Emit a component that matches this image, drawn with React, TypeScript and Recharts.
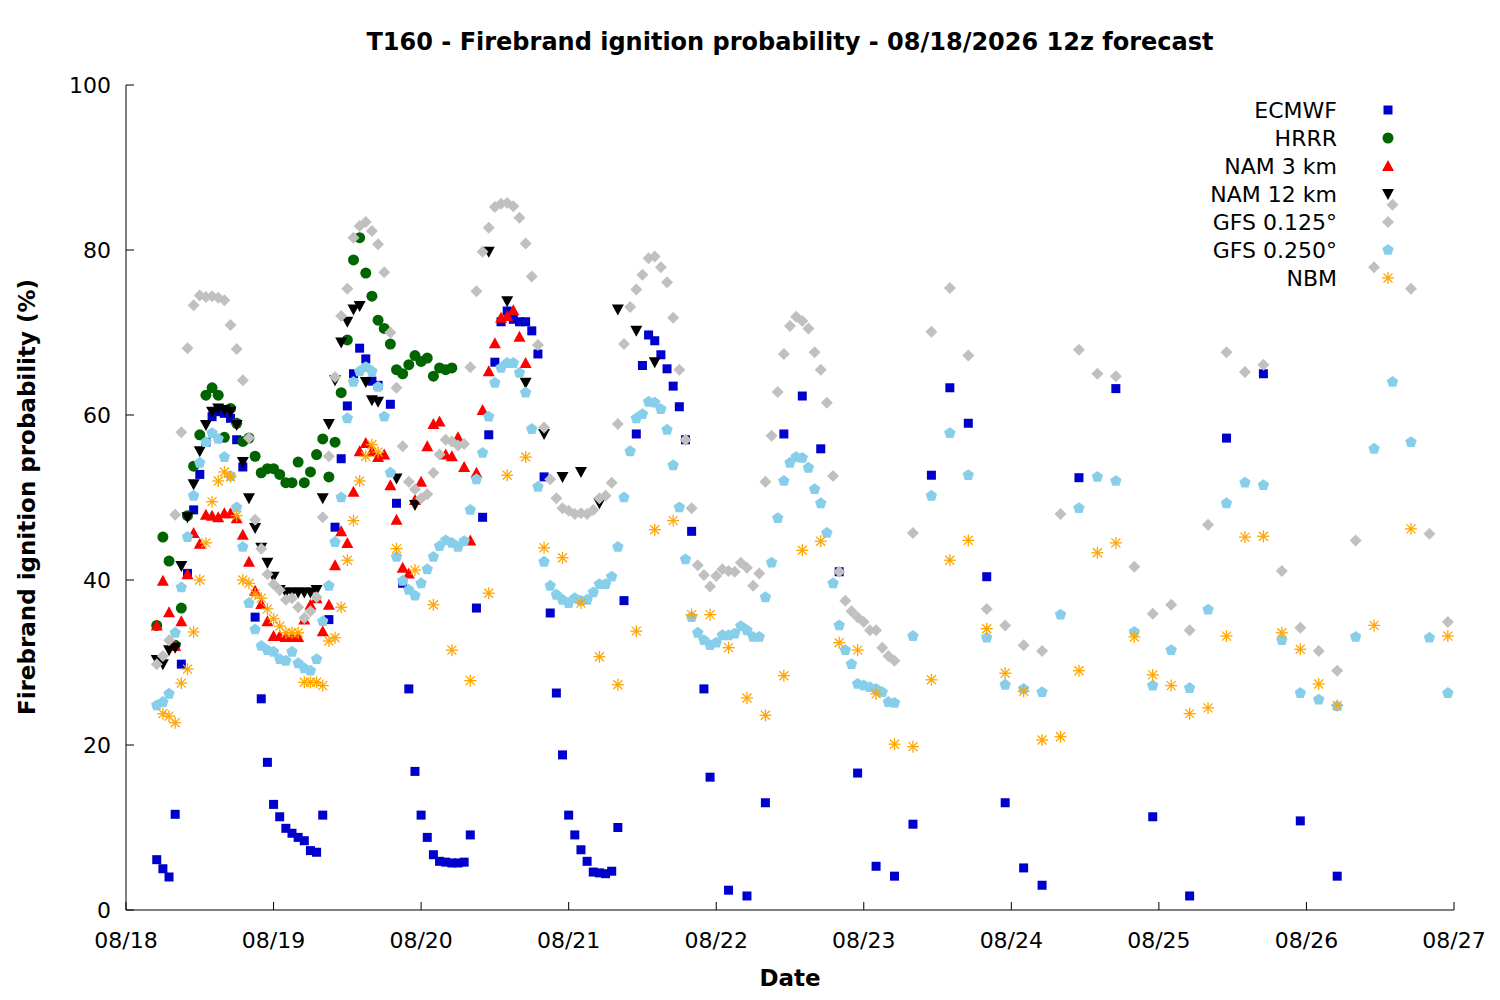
import React from 'react';
import { ScatterChart, Scatter, XAxis, YAxis } from 'recharts';

// x = forecast hours since 08/18 00z, y = ignition probability (%)
const dayLabels = ['08/18', '08/19', '08/20', '08/21', '08/22', '08/23', '08/24', '08/25', '08/26', '08/27'];
const xTicks = [0, 24, 48, 72, 96, 120, 144, 168, 192, 216];
const yTicks = [0, 20, 40, 60, 80, 100];

const ecmwfHourly = [6.1, 5.0, 4.0, 11.6, 29.8, 40.8, 48.5, 52.8, 56.7, 59.8, 60.4, 60.2, 59.6, 57, 53.7, null, 35.5, 25.6, 17.9, 12.8, 11.3, 9.9, 9.3, 8.8, 8.4, 7.2, 7.0, 11.5, 35.2, 46.4, 54.7, 61.1, 65, 68.1, 66.8, 64.1, 63.6, null, 61.3, 49.3, 39.6, 26.8, 16.8, 11.5, 8.8, 6.7, 5.9, 5.8, 5.7, 5.7, 5.8, 9.1, 36.6, 47.6, 57.6, 66.4, 71.3, 72.6, 71.6, 71.3, 71.3, 70.2, 67.4, 52.5, 36, 26.3, 18.8, 11.5, 9.1, 7.3, 5.9, 4.6, 4.5, 4.4, 4.7, 10, 37.5, null, 57.7, 66, 69.7, 69, 67.3, 65.6, 63.5, 61, 57, 45.9];
const ecmwfLateHours = [94, 95, 98, 101, 104, 107, 110, 113, 116, 119, 122, 125, 128, 131, 134, 137, 140, 143, 146, 149, 155, 161, 167, 173, 179, 185, 191, 197];
const ecmwfLate = [26.8, 16.1, 2.4, 1.7, 13, 57.7, 62.3, 55.9, 41, 16.6, 5.3, 4.1, 10.4, 52.7, 63.3, 59, 40.4, 13, 5.1, 3, 52.4, 63.2, 11.3, 1.7, 57.2, 65, 10.8, 4.1];

const hrrr = [34.5, 45.2, 42.3, 32.1, 36.6, 47.8, 53.8, 57.6, 62.4, 63.3, 62.4, 57.3, 60.8, 59, 56.8, 57.2, 55, 53, 53.5, 53.5, 52.8, 51.8, 51.8, 54.3, 51.8, 53.1, 55.2, 57.1, 52.5, 56.7, 62.7, 69.1, 78.8, 81.5, 77.2, 74.4, 71.5, 70.5, 68.6, 65.5, 65, 66.1, 67.2, 66.5, 66.9, 64.7, 65.7, 65.5, 65.7];

const nam3 = [34.5, 39.9, 36.1, 32, 35, 40.7, 45.7, 44.4, 47.9, 47.8, 47.6, 48.1, 48.1, 47.5, 45.5, 42.2, 38.7, 37.1, 35, 33.2, 33.2, 33.1, 33.1, 33.1, 35.2, 37, 37.8, 33.8, 37, 41.8, 45.9, 44.5, 50.7, 55.6, 56.6, 55.6, 54.9, 55.2, 51.5, 47.3, 41.5, 40.8, 49.7, 51.9, 56.2, 58.9, 59.2, 55.2, 55, 57.3, 53.7, 44.8, 53, 60.6, 65.3, 68.7, 71.8, 72, 72.7, 69.5, 66.3];

const nam12Hourly = [30.3, 29.8, 31.5, 31.8, 41.7, 47.6, 51.6, 55.6, 58.8, 60.4, 60.8, 60.6, 60.4, 58.8, 54.3, 49.9, 46.3, 43.9, 42.1, 40.4, 38.8, 38.5, 38.5, 38.5, 38.5, 38.5, 38.8, 49.9, 58.9, 64.2, 68.8, 71.3, 72.8, 73.2, 64, 61.8, 61.6];
const nam12LateHours = [44, 47, 59, 62, 65, 68, 71, 74, 77, 80, 83, 86];
const nam12Late = [52.3, 49.1, 79.8, 73.8, 63.9, 57.7, 52.5, 53.1, 49.3, 72.8, 70.2, 66.4];

const gfs125Hourly = [29.8, 30.8, 32.7, 47.9, 57.9, 68.1, 73.3, 74.5, 74.3, 74.4, 74.2, 73.9, 70.9, 68, 64.2, 57.2, 47.3, 43.8, 40.7, 39.5, 38.8, 37.6, 37.8, 36.7, 35.4, 36.2, 37.9, 47.6, 55, 64.6, 72, 75.3, 81.5, 82.9, 83.4, 82.3, 80.7, 77.3, 70, 63.3, 56.2, 51.9, 51, 49.9, 50.4, 53, 55.2, 57, 56.8, 56.3, 56.5, 65.8, 75, 79.8, 82.7, 85.2, 85.6, 85.7, 85.3, 83.9, 80.8, 76.8, 68.5, 58.5, 52.2, 49.9, 48.7, 48.4, 48, 48.1, 48, 48.5, 49.9, 50.2, 51.8, 58.9, 68.6, 73.1, 75.2, 77, 79, 79.2, 77.9, 76.1, 71.8, 65.5, 57, 48.7, 41.8, 40.6, 39.2, 40.5, 41.3, 41.1, 41, 42.1, 41.5, 39.3, 40.8, 51.9, 57.5, 62.8, 67.4, 70.8, 71.9, 71.4, 70.5, 67.6, 65.5, 61.5, 52.6, 41, 37.5, 36.2, 35.5, 34.9, 33.9, 33.9, 31.8, 30.8, 30.2];
const gfs125Late = [45.7, 70.1, 75.4, 67.2, 36.5, 34.5, 32.1, 31.4, 48, 67.9, 65, 64.7, 41.6, 35.9, 37, 33.9, 46.7, 67.6, 65.2, 66.1, 41.1, 34.2, 31.4, 29, 44.8, 77.9, 85.5, 75.3, 45.6, 34.9];

const gfs250Hourly = [24.8, 25.2, 26.2, 33.6, 39.1, 45.2, 50.2, 54.2, 56.7, 57.8, 57.1, 54.9, 52.6, 48.8, 44, 37.2, 34, 32, 31.5, 31.3, 30.4, 30.2, 31.3, 29.9, 29.3, 29, 30.4, 35, 39.3, 44.6, 50, 59.6, 64, 65.3, 65.8, 65.3, 63.4, 59.8, 53, 42.8, 39.9, 38.8, 38.1, 39.6, 41.3, 42.8, 44.1, 44.8, 44.5, 44, 44.7, 48.5, 52.2, 55.4, 59.8, 63.9, 65.7, 66.3, 66.3, 65.1, 62.7, 58.3, 51.3, 42.2, 39.3, 38.2, 37.6, 37.2, 37.8, 37.5, 37.6, 38.5, 39.5, 39.5, 40.4, 44, 50, 55.6, 59.6, 60.1, 61.6, 61.5, 60.7, 58.2, 53.9, 48.8, 42.5, 35.5, 33.6, 32.7, 32.1, 32.4, 33.3, 33.3, 33.5, 34.4, 33.9, 33.1, 33.1, 37.9, 42.1, 47.5, 52, 54.2, 54.9, 54.8, 53.6, 51, 49.3, 45.7, 39.6, 34.5, 31.5, 29.8, 27.4, 27.2, 27, 26.8, 26.4, 25.2, 25.1];
const gfs250Late = [33.2, 50.2, 57.8, 52.7, 33, 27.3, 26.8, 26.4, 35.8, 48.7, 52.5, 52, 33.7, 27.2, 31.5, 26.9, 36.4, 49.3, 51.8, 51.5, 32.7, 26.3, 25.5, 24.7, 33.1, 55.9, 64, 56.7, 33, 26.3];

const nbmHourly = [23.8, 23.5, 22.7, 27.5, 29.2, 33.7, 40, 44.5, 49.5, 52, 53.1, 52.5, 47.8, 40, 39.6, 38.3, 37.8, 36.5, 35.3, 34.4, 33.6, 33.6, 33.6, 27.6, 27.6, 27.6, 27.2, 32.6, 33, 36.7, 42.4, 47.2, 52, 55, 56.4, 55.5];
const nbmLateHours = [44, 47, 50, 53, 56, 59, 62, 65, 68, 71, 74, 77, 80, 83, 86, 89, 92, 95, 98, 101, 104, 107, 110, 113, 116, 119, 122, 125, 128, 131, 134, 137, 140, 143, 146, 149, 152, 155, 158, 161, 164, 167, 170, 173, 176, 179, 182, 185, 188, 191, 194, 197, 203, 209, 215];
const nbmLate = [43.8, 41.2, 37, 31.5, 27.8, 38.4, 52.7, 54.9, 43.9, 42.7, 37.2, 30.7, 27.3, 33.8, 46.1, 47.2, 35.8, 35.8, 31.8, 25.7, 23.6, 28.4, 43.6, 44.7, 32.4, 31.5, 26.2, 20.1, 19.8, 27.9, 42.4, 44.8, 34.1, 28.7, 26.5, 20.6, 21, 29, 43.3, 44.5, 33.1, 28.5, 27.2, 23.8, 24.5, 33.2, 45.2, 45.3, 33.6, 31.6, 27.4, 24.8, 34.5, 46.2, 33.2];

const hourly = (start: number, vals: (number | null)[]) =>
  vals.map((v, i) => ({ x: start + i, y: v })).filter(p => p.y !== null);
const paired = (hours: number[], vals: number[]) => vals.map((v, i) => ({ x: hours[i], y: v }));
const every3 = (start: number, vals: number[]) => vals.map((v, i) => ({ x: start + 3 * i, y: v }));

const ecmwfData = [...hourly(5, ecmwfHourly), ...paired(ecmwfLateHours, ecmwfLate)];
const hrrrData = hourly(5, hrrr);
const nam3Data = hourly(5, nam3);
const nam12Data = [...hourly(5, nam12Hourly), ...paired(nam12LateHours, nam12Late)];
const gfs125Data = [...hourly(5, gfs125Hourly), ...every3(128, gfs125Late)];
const gfs250Data = [...hourly(5, gfs250Hourly), ...every3(128, gfs250Late)];
const nbmData = [...hourly(6, nbmHourly), ...paired(nbmLateHours, nbmLate)];

const FONT = '"DejaVu Sans", sans-serif';

const Square = ({ cx, cy, fill }: any) => <rect x={cx - 4.5} y={cy - 4.5} width={9} height={9} fill={fill} />;
const Circle = ({ cx, cy, fill }: any) => <circle cx={cx} cy={cy} r={5.5} fill={fill} />;
const TriUp = ({ cx, cy, fill }: any) => <polygon points={`${cx},${cy - 6} ${cx - 6},${cy + 5} ${cx + 6},${cy + 5}`} fill={fill} />;
const TriDown = ({ cx, cy, fill }: any) => <polygon points={`${cx},${cy + 6} ${cx - 6},${cy - 5} ${cx + 6},${cy - 5}`} fill={fill} />;
const Diamond = ({ cx, cy, fill }: any) => <polygon points={`${cx},${cy - 6} ${cx + 6},${cy} ${cx},${cy + 6} ${cx - 6},${cy}`} fill={fill} />;
const Pentagon = ({ cx, cy, fill }: any) => {
  const pts = [0, 1, 2, 3, 4].map(k => {
    const a = -Math.PI / 2 + (k * 2 * Math.PI) / 5;
    return `${cx + 6 * Math.cos(a)},${cy + 6 * Math.sin(a)}`;
  });
  return <polygon points={pts.join(' ')} fill={fill} />;
};
const Star = ({ cx, cy, fill }: any) => (
  <g stroke={fill} strokeWidth={1.3}>
    <line x1={cx - 6} y1={cy} x2={cx + 6} y2={cy} />
    <line x1={cx} y1={cy - 6} x2={cx} y2={cy + 6} />
    <line x1={cx - 4.5} y1={cy - 4.5} x2={cx + 4.5} y2={cy + 4.5} />
    <line x1={cx - 4.5} y1={cy + 4.5} x2={cx + 4.5} y2={cy - 4.5} />
  </g>
);

const series = [
  { name: 'ECMWF', data: ecmwfData, color: '#0000cc', Shape: Square },
  { name: 'HRRR', data: hrrrData, color: '#006400', Shape: Circle },
  { name: 'NAM 3 km', data: nam3Data, color: '#ff0000', Shape: TriUp },
  { name: 'NAM 12 km', data: nam12Data, color: '#000000', Shape: TriDown },
  { name: 'GFS 0.125°', data: gfs125Data, color: '#c0c0c0', Shape: Diamond },
  { name: 'GFS 0.250°', data: gfs250Data, color: '#87ceeb', Shape: Pentagon },
  { name: 'NBM', data: nbmData, color: '#ffa500', Shape: Star },
];

const XTick = ({ x, y, payload }: any) => (
  <g>
    <line x1={x} y1={y} x2={x} y2={y - 8} stroke="#000" />
    <text x={x} y={y + 38} textAnchor="middle" fontSize={22} fontFamily={FONT} fill="#000">
      {dayLabels[xTicks.indexOf(payload.value)]}
    </text>
  </g>
);
const XTickTop = ({ x, y }: any) => <line x1={x} y1={y} x2={x} y2={y + 8} stroke="#000" />;
const YTick = ({ x, y, payload }: any) => (
  <g>
    <line x1={x} y1={y} x2={x + 8} y2={y} stroke="#000" />
    <text x={x - 15} y={y + 8} textAnchor="end" fontSize={22} fontFamily={FONT} fill="#000">{payload.value}</text>
  </g>
);
const YTickRight = ({ x, y }: any) => <line x1={x} y1={y} x2={x - 8} y2={y} stroke="#000" />;

export default function App() {
  return (
    <div style={{ position: 'absolute', left: 0, top: 0, width: 1500, height: 1000, background: '#fff', fontFamily: FONT }}>
      <ScatterChart width={1500} height={1000} margin={{ top: 85, right: 46, bottom: 60, left: 56 }}>
        <XAxis xAxisId="b" type="number" dataKey="x" domain={[0, 216]} ticks={xTicks} height={30}
          tickSize={0} tickMargin={0} tick={<XTick />} stroke="#000" />
        <XAxis xAxisId="t" orientation="top" type="number" dataKey="x" domain={[0, 216]} ticks={xTicks} height={0}
          tickSize={0} tickMargin={0} tick={<XTickTop />} stroke="#000" />
        <YAxis yAxisId="l" type="number" dataKey="y" domain={[0, 100]} ticks={yTicks} width={70}
          tickSize={0} tickMargin={0} tick={<YTick />} stroke="#000" />
        <YAxis yAxisId="r" orientation="right" type="number" dataKey="y" domain={[0, 100]} ticks={yTicks} width={0}
          tickSize={0} tickMargin={0} tick={<YTickRight />} stroke="#000" />
        {series.map(s => (
          <Scatter key={s.name} name={s.name} data={s.data} xAxisId="b" yAxisId="l" fill={s.color}
            shape={<s.Shape />} isAnimationActive={false} />
        ))}
      </ScatterChart>
      <div style={{ position: 'absolute', top: 28, left: 0, width: 1580, textAlign: 'center', fontSize: 24, fontWeight: 'bold' }}>
        T160 - Firebrand ignition probability - 08/18/2026 12z forecast
      </div>
      <div style={{ position: 'absolute', top: 965, left: 0, width: 1580, textAlign: 'center', fontSize: 23, fontWeight: 'bold' }}>
        Date
      </div>
      <div style={{ position: 'absolute', left: 27, top: 497, transform: 'translate(-50%, -50%) rotate(-90deg)', whiteSpace: 'nowrap', fontSize: 23, fontWeight: 'bold' }}>
        Firebrand ignition probability (%)
      </div>
      <svg style={{ position: 'absolute', left: 0, top: 0 }} width={1500} height={300}>
        {series.map((s, i) => (
          <g key={s.name}>
            <text x={1337} y={118 + i * 28} textAnchor="end" fontSize={22} fontFamily={FONT} fill="#000">{s.name}</text>
            <s.Shape cx={1388} cy={110 + i * 28} fill={s.color} />
          </g>
        ))}
      </svg>
    </div>
  );
}
